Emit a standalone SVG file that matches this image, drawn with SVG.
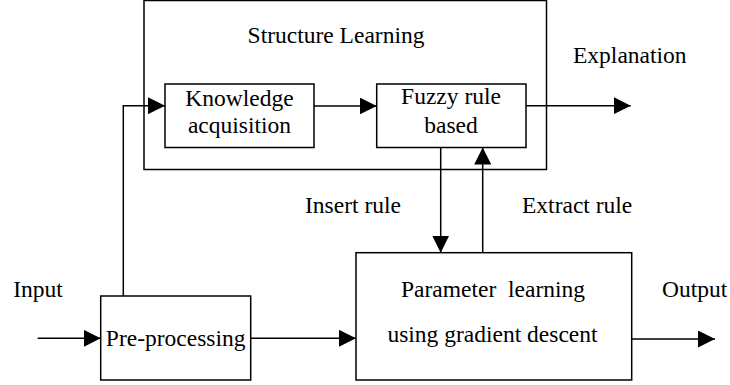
<svg xmlns="http://www.w3.org/2000/svg" width="730" height="385" viewBox="0 0 730 385">
<style>
.b{fill:none;stroke:#000;stroke-width:1.5}
.c{fill:none;stroke:#000;stroke-width:1.5}
text{font-family:"Liberation Serif","Times New Roman",serif;font-size:23.5px;fill:#000}
.m{text-anchor:middle}
</style>
<defs>
<marker id="ah" markerUnits="userSpaceOnUse" markerWidth="17" markerHeight="17" refX="17" refY="8.5" orient="auto">
<path d="M0,0 L17,8.5 L0,17 Z" fill="#000"/>
</marker>
</defs>
<rect width="730" height="385" fill="#fff"/>
<g id="structure">
<rect class="b" x="144" y="0.5" width="402.5" height="169"/>
<text class="m" x="336" y="43">Structure Learning</text>
</g>
<g id="knowledge">
<rect class="b" x="165" y="84" width="149" height="63.5"/>
<text class="m" x="239.5" y="106">Knowledge</text>
<text class="m" x="239.5" y="133">acquisition</text>
</g>
<g id="fuzzy">
<rect class="b" x="376.7" y="84" width="149.3" height="63.5"/>
<text class="m" x="451" y="104">Fuzzy rule</text>
<text class="m" x="451" y="133">based</text>
</g>
<g id="preprocessing">
<rect class="b" x="100.7" y="296" width="150" height="84"/>
<text class="m" x="175.7" y="346">Pre-processing</text>
</g>
<g id="parameter">
<rect class="b" x="356" y="252.7" width="275.7" height="127.3"/>
<text class="m" x="493" y="296.7" xml:space="preserve">Parameter  learning</text>
<text class="m" x="492.5" y="341.7">using gradient descent</text>
</g>
<g id="labels">
<text x="573" y="63.3">Explanation</text>
<text x="305" y="212.7">Insert rule</text>
<text x="522" y="212.7">Extract rule</text>
<text x="13.3" y="296.7">Input</text>
<text x="662" y="296.7">Output</text>
</g>
<g id="connectors">
<path class="c" d="M37.7,338.3 H100.7" marker-end="url(#ah)"/>
<path class="c" d="M250.7,338.3 H356" marker-end="url(#ah)"/>
<path class="c" d="M631.7,339 H715" marker-end="url(#ah)"/>
<path class="c" d="M123.3,296 V105.7 H165" marker-end="url(#ah)"/>
<path class="c" d="M314,106 H376.7" marker-end="url(#ah)"/>
<path class="c" d="M526,105.7 H630.7" marker-end="url(#ah)"/>
<path class="c" d="M440.7,147.5 V252.7" marker-end="url(#ah)"/>
<path class="c" d="M482.7,252.7 V147.5" marker-end="url(#ah)"/>
</g>
</svg>
